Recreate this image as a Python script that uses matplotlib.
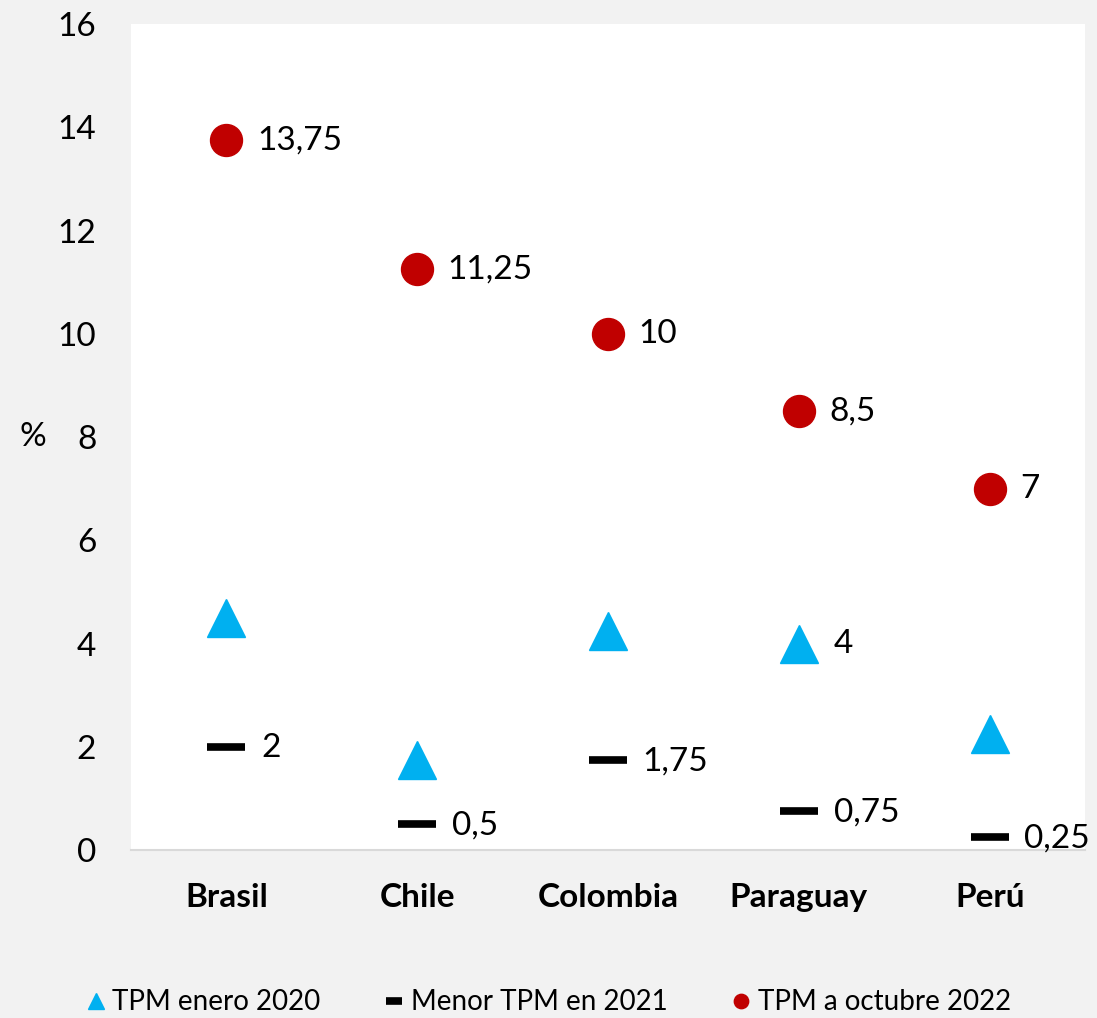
import matplotlib
matplotlib.use('Agg')
import matplotlib.pyplot as plt

plt.rcParams['font.family'] = ['Lato', 'DejaVu Sans']

paises = ['Brasil', 'Chile', 'Colombia', 'Paraguay', 'Perú']
tpm_enero_2020 = [4.5, 1.75, 4.25, 4.0, 2.25]
menor_tpm_2021 = [2.0, 0.5, 1.75, 0.75, 0.25]
tpm_oct_2022 = [13.75, 11.25, 10.0, 8.5, 7.0]
# solo se rotula el triángulo de Paraguay
etiqueta_enero = ['', '', '', '4', '']

def fmt(v):
    s = ('%g' % v).replace('.', ',')
    return s

fig = plt.figure(figsize=(10.97, 10.18), dpi=100, facecolor='#f2f2f2')
ax = fig.add_axes([0.1194, 0.165, 0.8697, 0.8114])
ax.set_facecolor('white')

x = list(range(len(paises)))
ax.plot(x, tpm_enero_2020, linestyle='none', marker='^', markersize=27,
        color='#00b0f0', label='TPM enero 2020')
ax.plot(x, menor_tpm_2021, linestyle='none', marker='_', markersize=27,
        markeredgewidth=5.5, color='black', label='Menor TPM en 2021')
ax.plot(x, tpm_oct_2022, linestyle='none', marker='o', markersize=23,
        color='#c00000', label='TPM a octubre 2022')

fs = 24
for i in x:
    ax.annotate(fmt(tpm_oct_2022[i]), (i, tpm_oct_2022[i]), xytext=(22, 0),
                textcoords='offset points', va='center', ha='left', fontsize=fs)
    ax.annotate(fmt(menor_tpm_2021[i]), (i, menor_tpm_2021[i]), xytext=(25, -1),
                textcoords='offset points', va='center', ha='left', fontsize=fs)
    if etiqueta_enero[i]:
        ax.annotate(etiqueta_enero[i], (i, tpm_enero_2020[i]), xytext=(25, 0),
                    textcoords='offset points', va='center', ha='left', fontsize=fs)

ax.set_xlim(-0.5, 4.5)
ax.set_ylim(0, 16)
ax.set_yticks(range(0, 17, 2))
ax.set_xticks(x)
ax.set_xticklabels(paises, fontsize=fs, fontweight='bold')
ax.tick_params(axis='y', labelsize=fs, length=0, pad=25)
ax.tick_params(axis='x', length=0, pad=24)
for s in ['top', 'right', 'left']:
    ax.spines[s].set_visible(False)
ax.spines['bottom'].set_color('#d9d9d9')
ax.spines['bottom'].set_linewidth(1.5)

ax.set_ylabel('%', rotation=0, fontsize=fs, labelpad=18, va='center')

leg = fig.legend(loc='lower center', bbox_to_anchor=(0.5, -0.022), ncol=3, frameon=False,
                 fontsize=20, markerscale=0.45, handlelength=0.7, handletextpad=0.25,
                 columnspacing=2.3)

fig.savefig('out.png', dpi=100, facecolor=fig.get_facecolor())
